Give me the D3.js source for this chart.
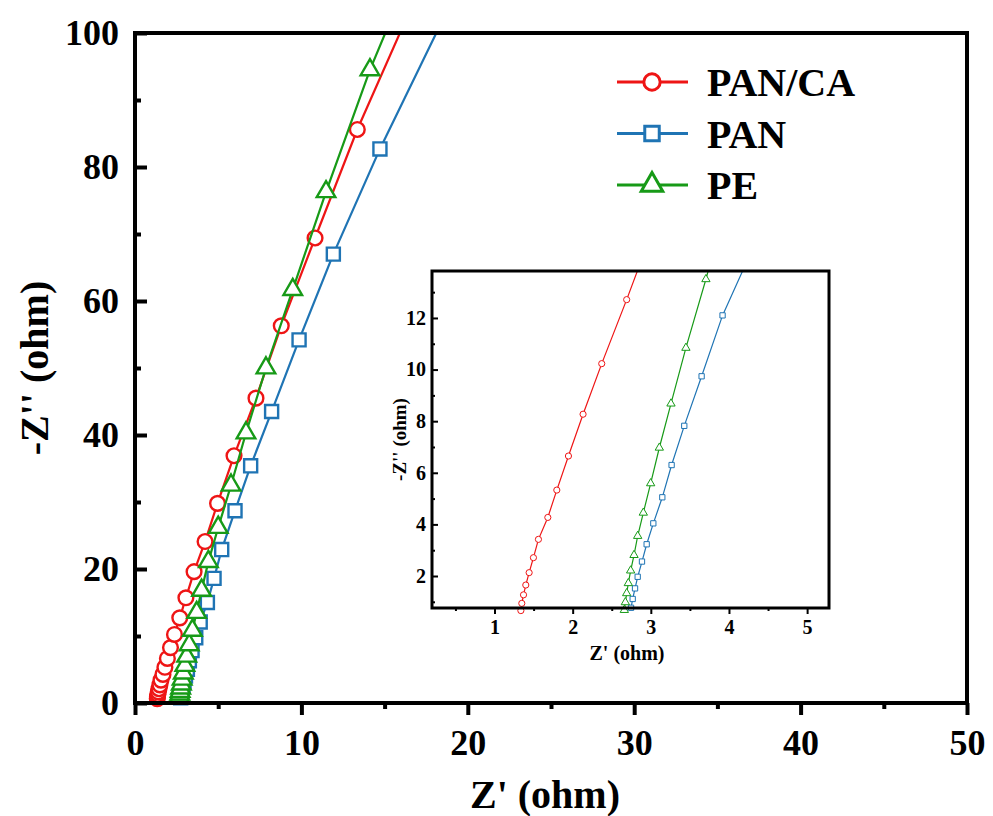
<!DOCTYPE html>
<html>
<head>
<meta charset="utf-8">
<script src="https://cdn.jsdelivr.net/npm/d3@7"></script>
<style>
    body { margin: 0; background: #fff; }
    svg text { font-family: "Liberation Serif", "Times New Roman", serif; font-weight: bold; }
</style>
</head>
<body>
<svg width="993" height="816"></svg>
<script>
// Nyquist data (Z' and -Z'' in ohm)
var panCaX = [1.337, 1.349, 1.371, 1.400, 1.443, 1.498, 1.562, 1.682, 1.797, 1.946, 2.133, 2.372, 2.691, 3.06, 3.55, 4.21, 4.96, 5.95, 7.27, 8.79, 10.82, 13.36, 16.9];
var panCaY = [0.66, 0.94, 1.27, 1.65, 2.13, 2.71, 3.42, 4.27, 5.33, 6.65, 8.27, 10.23, 12.71, 15.7, 19.6, 24.1, 29.8, 36.9, 45.5, 56.3, 69.4, 85.6, 105.5];

var panX = [2.747, 2.768, 2.798, 2.832, 2.887, 2.947, 3.032, 3.147, 3.266, 3.428, 3.650, 3.918, 4.35, 4.75, 5.21, 6.01, 6.95, 8.21, 9.86, 11.92, 14.72, 18.5];
var panY = [0.77, 1.11, 1.52, 1.97, 2.56, 3.23, 4.04, 5.05, 6.30, 7.82, 9.74, 12.10, 15.0, 18.6, 22.9, 28.7, 35.4, 43.5, 54.2, 67.0, 82.7, 102];

var peX = [2.661, 2.674, 2.691, 2.712, 2.742, 2.785, 2.832, 2.904, 2.998, 3.109, 3.258, 3.449, 3.705, 4.0, 4.41, 5.0, 5.77, 6.67, 7.87, 9.48, 11.48, 14.12, 17.9];
var peY = [0.68, 0.98, 1.33, 1.72, 2.21, 2.81, 3.55, 4.45, 5.59, 6.97, 8.68, 10.84, 13.50, 16.8, 21.1, 26.2, 32.5, 40.3, 50.0, 61.7, 76.3, 94.5, 117];

var seriesNames = ["PAN/CA", "PAN", "PE"];
var xTicks = [0, 10, 20, 30, 40, 50];
var yTicks = [0, 20, 40, 60, 80, 100];
var insetXTicks = [1, 2, 3, 4, 5];
var insetYTicks = [2, 4, 6, 8, 10, 12];

var colors = { "PAN/CA": "#ee1515", "PAN": "#1f74b4", "PE": "#179a17" };
var symbols = { "PAN/CA": d3.symbolCircle, "PAN": d3.symbolSquare, "PE": d3.symbolTriangle };

function zip(xs, ys) {
    return xs.map(function (x, i) { return { x: x, y: ys[i] }; });
}

var series = [
    { name: "PAN/CA", values: zip(panCaX, panCaY) },
    { name: "PAN", values: zip(panX, panY) },
    { name: "PE", values: zip(peX, peY) }
];

var svg = d3.select("svg");

// main plot box
var box = { left: 135, right: 967, top: 33, bottom: 703 };

var x = d3.scaleLinear().domain([0, 50]).range([box.left, box.right]);
var y = d3.scaleLinear().domain([0, 100]).range([box.bottom, box.top]);

var defs = svg.append("defs");
defs.append("clipPath").attr("id", "clipMain")
    .append("rect")
    .attr("x", box.left).attr("y", box.top)
    .attr("width", box.right - box.left).attr("height", box.bottom - box.top + 30);

// draws one plot: ticks, frame, lines and markers
function drawPlot(g, xs, ys, opt) {
    var x0 = xs.range()[0], x1 = xs.range()[1];
    var y0 = ys.range()[0], y1 = ys.range()[1];

    // x ticks point down (outside)
    g.append("g")
        .attr("transform", "translate(0," + y0 + ")")
        .call(d3.axisBottom(xs).tickValues(opt.xMinor).tickSize(opt.minor).tickFormat(""))
        .call(function (a) { a.select(".domain").remove(); })
        .selectAll("line").attr("stroke-width", opt.tickWidth);

    var xa = g.append("g")
        .attr("transform", "translate(0," + y0 + ")")
        .call(d3.axisBottom(xs).tickValues(opt.xTicks).tickSize(opt.major).tickPadding(opt.xPad).tickFormat(d3.format("d")));
    xa.select(".domain").remove();
    xa.selectAll("line").attr("stroke-width", opt.tickWidth);
    xa.selectAll("text").attr("font-size", opt.tickFont).attr("fill", "#000");

    // y ticks point right (inside)
    g.append("g")
        .attr("transform", "translate(" + x0 + ",0)")
        .call(d3.axisLeft(ys).tickValues(opt.yMinor).tickSize(-opt.minor).tickFormat(""))
        .call(function (a) { a.select(".domain").remove(); })
        .selectAll("line").attr("stroke-width", opt.tickWidth);

    var ya = g.append("g")
        .attr("transform", "translate(" + x0 + ",0)")
        .call(d3.axisLeft(ys).tickValues(opt.yTicks).tickSize(-opt.major).tickPadding(opt.yPad).tickFormat(d3.format("d")));
    ya.select(".domain").remove();
    ya.selectAll("line").attr("stroke-width", opt.tickWidth);
    ya.selectAll("text").attr("font-size", opt.tickFont).attr("fill", "#000");

    var line = d3.line()
        .x(function (d) { return xs(d.x); })
        .y(function (d) { return ys(d.y); });

    var plot = g.append("g").attr("clip-path", "url(#" + opt.clip + ")");

    series.forEach(function (s) {
        var c = colors[s.name];
        plot.append("path")
            .datum(s.values)
            .attr("fill", "none")
            .attr("stroke", c)
            .attr("stroke-width", opt.lineWidth)
            .attr("d", line);

        plot.selectAll(null)
            .data(s.values)
            .enter().append("path")
            .attr("transform", function (d) { return "translate(" + xs(d.x) + "," + ys(d.y) + ")"; })
            .attr("d", d3.symbol().type(symbols[s.name]).size(opt.symSize[s.name]))
            .attr("fill", "#fff")
            .attr("stroke", c)
            .attr("stroke-width", opt.markerWidth);
    });

    // frame
    g.append("rect")
        .attr("x", x0).attr("y", y1)
        .attr("width", x1 - x0).attr("height", y0 - y1)
        .attr("fill", "none")
        .attr("stroke", "#000")
        .attr("stroke-width", opt.frameWidth);
}

var main = svg.append("g");
drawPlot(main, x, y, {
    xTicks: xTicks, xMinor: [5, 15, 25, 35, 45],
    yTicks: yTicks, yMinor: [10, 30, 50, 70, 90],
    major: 12, minor: 6, tickWidth: 4, frameWidth: 4,
    xPad: 14, yPad: 16, tickFont: 36,
    lineWidth: 2.2, markerWidth: 2.4,
    symSize: { "PAN/CA": 170, "PAN": 170, "PE": 150 },
    clip: "clipMain"
});

// axis titles
svg.append("text")
    .attr("x", 545).attr("y", 808)
    .attr("text-anchor", "middle")
    .attr("font-size", 40)
    .text("Z' (ohm)");

svg.append("text")
    .attr("transform", "translate(48," + ((box.top + box.bottom) / 2) + ") rotate(-90)")
    .attr("text-anchor", "middle")
    .attr("font-size", 40)
    .text("-Z'' (ohm)");

// legend
var legend = svg.append("g");
seriesNames.forEach(function (n, i) {
    var ly = 82 + i * 51.5;
    legend.append("line")
        .attr("x1", 617).attr("x2", 688)
        .attr("y1", ly).attr("y2", ly)
        .attr("stroke", colors[n]).attr("stroke-width", 3);
    legend.append("path")
        .attr("transform", "translate(652," + ly + ")")
        .attr("d", d3.symbol().type(symbols[n]).size(n === "PE" ? 200 : 210))
        .attr("fill", "#fff")
        .attr("stroke", colors[n])
        .attr("stroke-width", 3);
    legend.append("text")
        .attr("x", 707).attr("y", ly + 14)
        .attr("font-size", 40)
        .text(n);
});

// ****************** inset ***************************
var ibox = { left: 432, right: 829, top: 271, bottom: 608 };
var ix = d3.scaleLinear().domain([0.2, 5.28]).range([ibox.left, ibox.right]);
var iy = d3.scaleLinear().domain([0.76, 13.82]).range([ibox.bottom, ibox.top]);

defs.append("clipPath").attr("id", "clipInset")
    .append("rect")
    .attr("x", ibox.left).attr("y", ibox.top)
    .attr("width", ibox.right - ibox.left).attr("height", ibox.bottom - ibox.top + 10);

var inset = svg.append("g");
inset.append("rect")
    .attr("x", ibox.left).attr("y", ibox.top)
    .attr("width", ibox.right - ibox.left).attr("height", ibox.bottom - ibox.top)
    .attr("fill", "#fff");

drawPlot(inset, ix, iy, {
    xTicks: insetXTicks, xMinor: [0.5, 1.5, 2.5, 3.5, 4.5],
    yTicks: insetYTicks, yMinor: [1, 3, 5, 7, 9, 11, 13],
    major: 6, minor: 3, tickWidth: 2, frameWidth: 3,
    xPad: 6, yPad: 6, tickFont: 20,
    lineWidth: 1.2, markerWidth: 1,
    symSize: { "PAN/CA": 30, "PAN": 28, "PE": 30 },
    clip: "clipInset"
});

inset.append("text")
    .attr("x", 627).attr("y", 660)
    .attr("text-anchor", "middle")
    .attr("font-size", 20)
    .text("Z' (ohm)");

inset.append("text")
    .attr("transform", "translate(406," + ((ibox.top + ibox.bottom) / 2) + ") rotate(-90)")
    .attr("text-anchor", "middle")
    .attr("font-size", 19)
    .text("-Z'' (ohm)");
</script>
</body>
</html>
